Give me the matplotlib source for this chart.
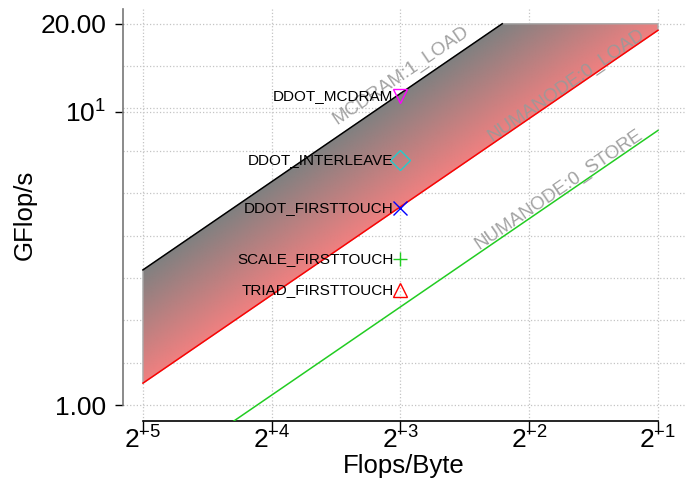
import numpy as np
import matplotlib
matplotlib.use("Agg")
import matplotlib.pyplot as plt
from matplotlib.patches import Polygon

plt.rcParams['font.family'] = ['Liberation Sans', 'DejaVu Sans']
plt.rcParams['mathtext.fontset'] = 'custom'
plt.rcParams['mathtext.rm'] = 'Liberation Sans'
plt.rcParams['mathtext.it'] = 'Liberation Sans:italic'

# data
x_ticks = [2**-5, 2**-4, 2**-3, 2**-2, 2**-1]
x_ticklabels = [r'$2^{-5}$', r'$2^{-4}$', r'$2^{-3}$', r'$2^{-2}$', r'$2^{-1}$']
y_ticks = [1.0, 10.0, 20.0]
y_ticklabels = ['1.00', r'$10^1$', '20.00']
peak = 20.0
roof_names = ['MCDRAM:1_LOAD', 'NUMANODE:0_LOAD', 'NUMANODE:0_STORE']
roof_bw = [92.5, 38.0, 17.3]
roof_colors = ['black', 'red', '#22cc22']
kernel_names = ['DDOT_MCDRAM', 'DDOT_INTERLEAVE', 'DDOT_FIRSTTOUCH', 'SCALE_FIRSTTOUCH', 'TRIAD_FIRSTTOUCH']
kernel_ai = [0.125, 0.125, 0.125, 0.125, 0.125]
kernel_perf = [11.3, 6.86, 4.70, 3.15, 2.47]
kernel_markers = ['v', 'D', 'x', '+', '^']
kernel_colors = ['magenta', '#22cccc', 'blue', '#22cc22', 'red']

W, H = 689, 478
fig = plt.figure(figsize=(W / 100, H / 100), dpi=100)
ax = fig.add_axes([123 / W, (H - 421) / H, (685 - 123) / W, (421 - 9) / H])
ax.set_xscale('log', base=2)
ax.set_yscale('log')
xmin, xmax = 2**-5.155, 2**-0.79
ymin, ymax = 0.882, 22.46
ax.set_xlim(xmin, xmax)
ax.set_ylim(ymin, ymax)

# gradient fill between the two top roofs
xs = np.geomspace(x_ticks[0], x_ticks[-1], 300)
upper = np.minimum(roof_bw[0] * xs, peak)
lower = np.minimum(roof_bw[1] * xs, peak)
verts = np.vstack([np.column_stack([xs, upper]), np.column_stack([xs[::-1], lower[::-1]])])
poly = Polygon(verts, closed=True, facecolor='none', edgecolor='#aaaaaa', lw=1, zorder=2)
ax.add_patch(poly)

n = 500
gx, gy = np.meshgrid(np.linspace(0, 1, n), np.linspace(0, 1, n))
dx = np.exp2(np.log2(xmin) + gx * (np.log2(xmax) - np.log2(xmin)))
dy = 10 ** (np.log10(ymin) + gy * (np.log10(ymax) - np.log10(ymin)))
s = np.log(dy / dx)
t = (np.log(roof_bw[0]) - s) / (np.log(roof_bw[0]) - np.log(roof_bw[1]))
t = np.clip(t, 0, 1)[..., None]
c0 = np.array([128, 128, 128]) / 255
c1 = np.array([240, 128, 128]) / 255
rgb = c0 * (1 - t) + c1 * t
im = ax.imshow(rgb, extent=(0, 1, 0, 1), transform=ax.transAxes, origin='lower',
               aspect='auto', zorder=1, interpolation='bilinear')
im.set_clip_path(poly)

# roof lines
for bw, col in zip(roof_bw, roof_colors):
    xe = min(x_ticks[-1], peak / bw)
    xl = np.geomspace(x_ticks[0], xe, 50)
    ax.plot(xl, bw * xl, color=col, lw=1.1, zorder=3)

# roof labels
label_pos = [(0.1253, 13.3), (0.305, 12.37), (0.2935, 5.42)]
for (lx, ly), bw, name in zip(label_pos, roof_bw, roof_names):
    p1 = ax.transData.transform((0.1, bw * 0.1))
    p2 = ax.transData.transform((0.2, bw * 0.2))
    ang = np.degrees(np.arctan2(p2[1] - p1[1], p2[0] - p1[0]))
    ax.text(lx, ly, name, rotation=ang, rotation_mode='anchor', ha='center', va='center',
            fontsize=13.5, color='#999999', alpha=0.9, zorder=4)

# kernels
for name, xa, pf, mk, col in zip(kernel_names, kernel_ai, kernel_perf, kernel_markers, kernel_colors):
    ax.plot(xa, pf, marker=mk, markersize=10, markerfacecolor='none', markeredgecolor=col,
            markeredgewidth=1, linestyle='none', zorder=5)
    ax.annotate(name, (xa, pf), xytext=(-5, 0), textcoords='offset points', ha='right',
                va='center', fontsize=11, zorder=5)

# axes styling
ax.set_xticks(x_ticks)
ax.set_xticklabels(x_ticklabels)
ax.xaxis.set_minor_locator(matplotlib.ticker.NullLocator())
ax.set_yticks(y_ticks)
ax.set_yticklabels(y_ticklabels)
ax.set_yticks(np.logspace(0, np.log10(peak), 10), minor=True)
ax.yaxis.set_minor_formatter(matplotlib.ticker.NullFormatter())
ax.tick_params(axis='y', which='minor', length=0)
ax.tick_params(axis='y', which='major', length=6, width=1, pad=6, labelsize=19, colors='black')
ax.tick_params(axis='x', which='major', length=9, width=1, pad=-5, labelsize=19)
ax.grid(True, which='both', axis='y', linestyle=':', color='#c4c4c4', lw=0.9)
ax.grid(True, which='major', axis='x', linestyle=':', color='#c4c4c4', lw=0.9)
ax.set_axisbelow(True)

for sp in ['top', 'right']:
    ax.spines[sp].set_visible(False)
ax.spines['left'].set_bounds(1.0, ymax)
ax.spines['left'].set_color('#777777')
ax.spines['left'].set_linewidth(1.2)
ax.spines['bottom'].set_bounds(x_ticks[0], x_ticks[-1])
ax.spines['bottom'].set_linewidth(1.2)

ax.set_xlabel('Flops/Byte', fontsize=18.5, labelpad=0)
ax.set_ylabel('GFlop/s', fontsize=18.5, labelpad=3)

fig.savefig('out.png', dpi=100)
